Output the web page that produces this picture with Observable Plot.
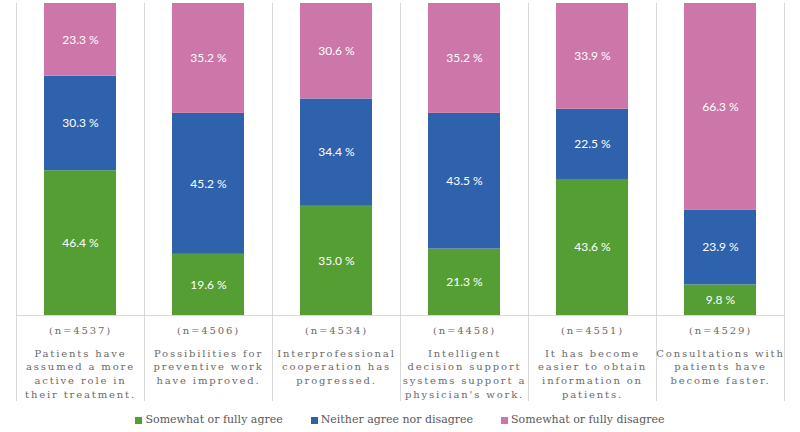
<!DOCTYPE html>
<html>
<head>
<meta charset="utf-8">
<script src="https://cdn.jsdelivr.net/npm/d3@7"></script>
<script src="https://cdn.jsdelivr.net/npm/@observablehq/plot@0.6"></script>
<style>
  html, body { margin: 0; padding: 0; background: #fff; }
  #chart { width: 800px; height: 432px; overflow: hidden; }
  #chart svg { display: block; }
  #chart svg g.catlabel text { letter-spacing: 1.85px; }
  .legend { display: flex; justify-content: center; gap: 28px; margin-top: 8px;
            font-family: "DejaVu Serif", serif; font-size: 11px; line-height: 14px; color: #595959; }
  .legend span.item { display: inline-flex; align-items: center; }
  .legend i { display: inline-block; width: 7px; height: 7px; margin-right: 3px; }
</style>
</head>
<body>
<div id="chart"></div>
<script>
// ---- data ----
const categories = [
  "Patients have\nassumed a more\nactive role in\ntheir treatment.",
  "Possibilities for\npreventive work\nhave improved.",
  "Interprofessional\ncooperation has\nprogressed.",
  "Intelligent\ndecision support\nsystems support a\nphysician's work.",
  "It has become\neasier to obtain\ninformation on\npatients.",
  "Consultations with\npatients have\nbecome faster."
];
const nValues = [4537, 4506, 4534, 4458, 4551, 4529];
const series = ["Somewhat or fully agree", "Neither agree nor disagree", "Somewhat or fully disagree"];
const agree    = [46.4, 19.6, 35.0, 21.3, 43.6, 9.8];
const neither  = [30.3, 45.2, 34.4, 43.5, 22.5, 23.9];
const disagree = [23.3, 35.2, 30.6, 35.2, 33.9, 66.3];
const colors = ["#559e33", "#2e62ad", "#cc76aa"];

const rows = [];
categories.forEach((c, i) => {
  [agree, neither, disagree].forEach((arr, j) => rows.push({category: c, series: series[j], value: arr[i]}));
});
const nLabels = categories.map((c, i) => ({category: c, label: `(n=${nValues[i]})`}));

const W = 800, H = 405, mL = 16, mR = 16, mT = 3, mB = 90;
const half = (W - mL - mR) / categories.length / 2;
const labelColor = "#6a6a6a";

const plot = Plot.plot({
  width: W, height: H,
  marginLeft: mL, marginRight: mR, marginTop: mT, marginBottom: mB,
  x: {domain: categories, paddingInner: 0.4375, paddingOuter: 0.21875, axis: null},
  y: {domain: [0, 100], axis: null},
  color: {domain: series, range: colors},
  marks: [
    Plot.ruleX(categories, {x: d => d, dx: -half, stroke: "#d9d9d9", insetBottom: -86}),
    Plot.ruleX(categories.slice(-1), {x: d => d, dx: half, stroke: "#d9d9d9", insetBottom: -86}),
    Plot.barY(rows, {x: "category", y: "value", z: "series", fill: "series"}),
    Plot.ruleY([0], {stroke: "#d9d9d9"}),
    Plot.text(rows, Plot.stackY({x: "category", y: "value", z: "series",
      text: d => d.value.toFixed(1) + " %", fill: "white",
      fontFamily: "Lato", fontSize: 12})),
    Plot.text(nLabels, {x: "category", text: "label", frameAnchor: "bottom", lineAnchor: "middle",
      dy: 15.5, fill: labelColor, fontFamily: "DejaVu Serif", fontSize: 10}),
    Plot.text(categories, {x: d => d, text: d => d, frameAnchor: "bottom", lineAnchor: "top",
      dy: 31.5, lineHeight: 1.37, fill: labelColor, fontFamily: "DejaVu Serif", fontSize: 10})
  ]
});

d3.select(plot).selectAll("g").filter(function() {
  return this.getAttribute("fill") === labelColor;
}).classed("catlabel", true);

const chart = document.getElementById("chart");
chart.appendChild(plot);

const legend = document.createElement("div");
legend.className = "legend";
series.forEach((s, j) => {
  const item = document.createElement("span");
  item.className = "item";
  const sw = document.createElement("i");
  sw.style.background = colors[j];
  item.appendChild(sw);
  item.appendChild(document.createTextNode(s));
  legend.appendChild(item);
});
chart.appendChild(legend);
</script>
</body>
</html>
